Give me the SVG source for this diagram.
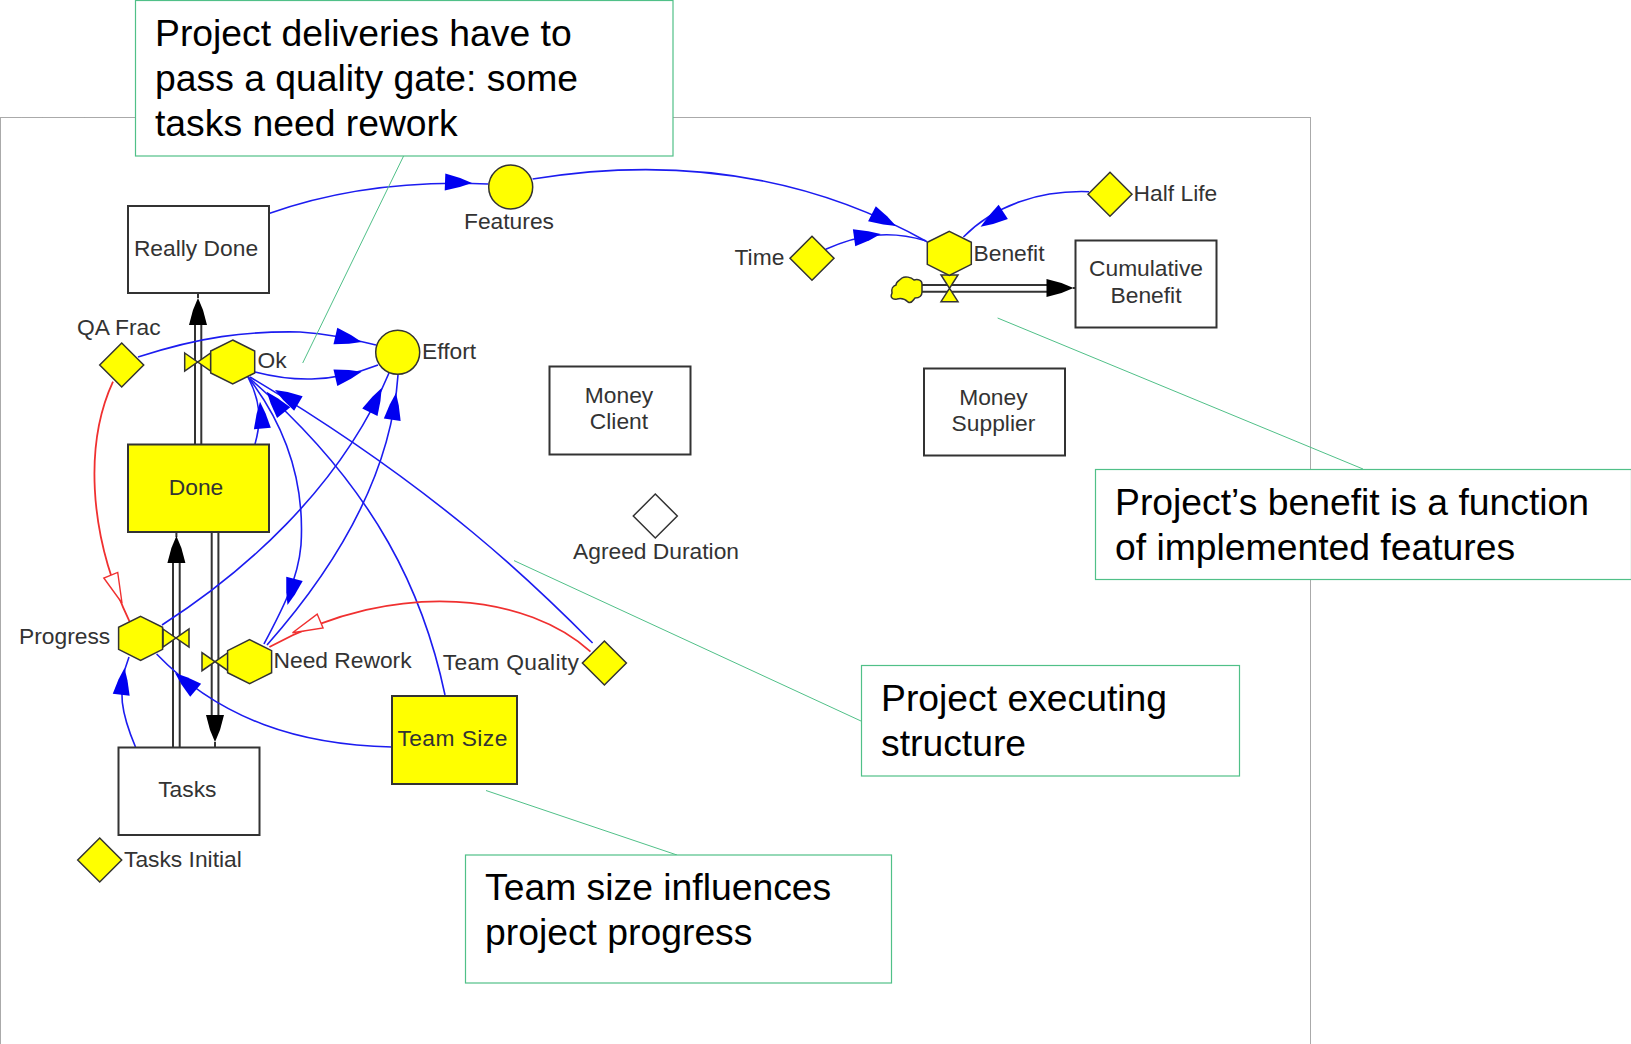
<svg xmlns="http://www.w3.org/2000/svg" xmlns:xlink="http://www.w3.org/1999/xlink" width="1631" height="1044" viewBox="0 0 1631 1044">
<style>
text{font-family:"Liberation Sans",Arial,sans-serif}
.t{font-size:22.8px;fill:#333}
.m{text-anchor:middle}
.c{font-size:37.3px;fill:#000}
.box{fill:#fff;stroke:#333;stroke-width:2}
.ybox{fill:#ff0;stroke:#333;stroke-width:2}
.y{fill:#ff0;stroke:#333;stroke-width:1.5}
.blue{fill:none;stroke:#1c1cf0;stroke-width:1.6}
.red{fill:none;stroke:#f03030;stroke-width:1.8}
.pipe{fill:none;stroke:#333;stroke-width:2}
.note{fill:#fff;stroke:#50c088;stroke-width:1.2}
.lead{fill:none;stroke:#50c088;stroke-width:1}
.ah{fill:#0000f0}
.hr{fill:#fff;stroke:#f03030;stroke-width:1.4}
.bk{fill:#000}
</style>
<defs>
<polygon id="a" class="ah" points="0,0 -12,-4.500 -27,-8.500 -27,8.500 -12,4.500"/>
<polygon id="h" class="hr" points="0,0 -30,-7.500 -30,7.500"/>
<polygon id="b" class="bk" points="0,0 -12,-5 -27,-9 -27,9 -12,5"/>
<polygon id="hex" points="0,-22 22,-11 22,11 0,22 -22,11 -22,-11"/>
<polygon id="dia" points="0,-22 22,0 0,22 -22,0"/>
<polygon id="bow" points="-13,-9 13,9 13,-9 -13,9"/>
</defs>
<rect x="0.500" y="117.500" width="1310" height="930" fill="#fff" stroke="#555" stroke-width="1" stroke-dasharray="1 1"/>
<g id="connectors">
<path class="pipe" d="M195 444V324M201.300 444V324"/>
<path class="pipe" d="M173 747V562M179.700 747V562"/>
<path class="pipe" d="M211.700 532V716M218.400 532V716"/>
<path class="pipe" d="M920 285H1047M920 291.700H1047"/>
<path class="pipe" d="M198 298V293M215 742V747M1073 288H1075M176.400 537V532" />
<use href="#b" transform="translate(198 298) rotate(-90)"/>
<use href="#b" transform="translate(176.400 536) rotate(-90)"/>
<use href="#b" transform="translate(215 742) rotate(90)"/>
<use href="#b" transform="translate(1073.500 288)"/>
<path class="blue" d="M269 213.500C330 192 400 180 488 184"/>
<use href="#a" transform="translate(472 183) rotate(2)"/>
<path class="blue" d="M138 357C200 337 245 331 300 332C330 334 350 339 376 345"/>
<use href="#a" transform="translate(361.700 342) rotate(13)"/>
<path class="blue" d="M255 372C290 381 330 384 378 365"/>
<use href="#a" transform="translate(361.700 371.700) rotate(-13)"/>
<path class="blue" d="M255 444C262 420 260 400 248 377"/>
<use href="#a" transform="translate(260 401.700) rotate(-95)"/>
<path class="blue" d="M248 377C285 425 305 480 301 545C298 580 282 610 264 644"/>
<use href="#a" transform="translate(287.500 605) rotate(105)"/>
<path class="blue" d="M267 645C320 585 390 490 398 375"/>
<use href="#a" transform="translate(396 393) rotate(-82)"/>
<path class="blue" d="M162 625C240 575 340 490 389 373"/>
<use href="#a" transform="translate(381.700 388) rotate(-64)"/>
<path class="blue" d="M445 695C425 600 380 490 248 377"/>
<use href="#a" transform="translate(266.700 391.700) rotate(-129)"/>
<path class="blue" d="M592.600 643C540 590 440 490 250 377"/>
<use href="#a" transform="translate(275 390) rotate(-150)"/>
<path class="blue" d="M135.500 747C122 715 116 690 129 657"/>
<use href="#a" transform="translate(124.500 668) rotate(-83)"/>
<path class="blue" d="M392 747C300 745 220 720 156.600 654"/>
<use href="#a" transform="translate(175 673) rotate(-140)"/>
<path class="blue" d="M532.600 179C650 160 790 165 927 241.700"/>
<use href="#a" transform="translate(896 226) rotate(27)"/>
<path class="blue" d="M825.700 249.300C860 234 890 230 925.600 240.700"/>
<use href="#a" transform="translate(880.800 234) rotate(-8)"/>
<path class="blue" d="M1089 191.700C1040 190 995 205 963.400 237"/>
<use href="#a" transform="translate(980.600 226.700) rotate(147)"/>
<path class="red" d="M113 381.700C86 440 86 530 129.600 621.700"/>
<use href="#h" transform="translate(122 603) rotate(68)"/>
<path class="red" d="M590.500 651.700C530 596 400 576 269.400 647"/>
<use href="#h" transform="translate(292.500 632.700) rotate(157)"/>
</g>
<g id="really-done"><rect class="box" x="128" y="206" width="141" height="87"/><text class="t m" x="196" y="256">Really Done</text></g>
<g id="done"><rect class="ybox" x="128" y="444.500" width="141" height="87.500"/><text class="t m" x="196" y="495">Done</text></g>
<g id="tasks"><rect class="box" x="118.500" y="747.500" width="141" height="87.500"/><text class="t m" x="187.300" y="797">Tasks</text></g>
<g id="team-size"><rect class="ybox" x="392" y="696" width="125" height="88"/><text class="t m" x="452.400" y="746" textLength="110">Team Size</text></g>
<g id="money-client"><rect class="box" x="549.500" y="366.500" width="141" height="88"/><text class="t m" x="619" y="403">Money</text><text class="t m" x="619" y="429">Client</text></g>
<g id="money-supplier"><rect class="box" x="924" y="368.500" width="141" height="87"/><text class="t m" x="993.400" y="405">Money</text><text class="t m" x="993.400" y="431">Supplier</text></g>
<g id="cumulative-benefit"><rect class="box" x="1075.500" y="240.500" width="141" height="87"/><text class="t m" x="1146" y="276">Cumulative</text><text class="t m" x="1146" y="302.700">Benefit</text></g>
<g id="features"><circle class="y" cx="510.700" cy="187" r="22"/><text class="t" x="464" y="229">Features</text></g>
<g id="effort"><circle class="y" cx="397.700" cy="352.300" r="22"/><text class="t" x="422" y="359">Effort</text></g>
<g id="qa-frac"><use class="y" href="#dia" x="121.700" y="365"/><text class="t" x="77" y="335">QA Frac</text></g>
<g id="tasks-initial"><use class="y" href="#dia" x="99.700" y="860"/><text class="t" x="124" y="866.700">Tasks Initial</text></g>
<g id="team-quality"><use class="y" href="#dia" x="604.400" y="663"/><text class="t" x="442.800" y="669.500" textLength="136">Team Quality</text></g>
<g id="time"><use class="y" href="#dia" x="812" y="258.300"/><text class="t" x="734.500" y="265">Time</text></g>
<g id="half-life"><use class="y" href="#dia" x="1110" y="194.300"/><text class="t" x="1133.600" y="201">Half Life</text></g>
<g id="agreed-duration"><use fill="#fff" stroke="#333" stroke-width="1.500" href="#dia" x="655.300" y="516"/><text class="t" x="573" y="559">Agreed Duration</text></g>
<g id="ok"><use class="y" href="#bow" x="197.700" y="362"/><use class="y" href="#hex" x="232.700" y="362"/><text class="t" x="257.500" y="368.300">Ok</text></g>
<g id="progress"><use class="y" href="#bow" x="176" y="638"/><use class="y" href="#hex" x="140.600" y="638.300"/><text class="t" x="19" y="644">Progress</text></g>
<g id="need-rework"><use class="y" href="#bow" x="215" y="661.700"/><use class="y" href="#hex" x="249.600" y="661.700"/><text class="t" x="273.500" y="668">Need Rework</text></g>
<g id="benefit"><polygon class="y" points="941,275 958,275 941,301.700 958,301.700"/><use class="y" href="#hex" x="949.300" y="253.300"/><text class="t" x="973.500" y="260.700">Benefit</text></g>
<g id="cloud"><path class="y" d="M922 284C922 280 918 279 914 280C911 277 905 276 902 278C899 281 896 281 896 285C893 286 891 289 892 293C890 297 892 300 897 299C901 298 905 299 908 302C912 304 913 300 915 298C920 298 922 295 922 292Z"/></g>
<g id="note-quality"><path class="lead" d="M403.600 156L302.700 363"/><rect class="note" x="135.500" y="0.500" width="537.500" height="155.500"/><text class="c" x="155" y="46">Project deliveries have to</text><text class="c" x="155" y="90.500">pass a quality gate: some</text><text class="c" x="155" y="135.500">tasks need rework</text></g>
<g id="note-benefit"><path class="lead" d="M1363 469L997.600 318"/><rect class="note" x="1095.500" y="469.500" width="536" height="110"/><text class="c" x="1115" y="515">Project’s benefit is a function</text><text class="c" x="1115" y="560">of implemented features</text></g>
<g id="note-structure"><path class="lead" d="M861 721L514 560.600"/><rect class="note" x="861.500" y="665.500" width="378" height="110.500"/><text class="c" x="881" y="711">Project executing</text><text class="c" x="881" y="756">structure</text></g>
<g id="note-team"><path class="lead" d="M677 855L486 790.500"/><rect class="note" x="465.500" y="855" width="426" height="128"/><text class="c" x="485" y="900">Team size influences</text><text class="c" x="485" y="945">project progress</text></g>
</svg>
